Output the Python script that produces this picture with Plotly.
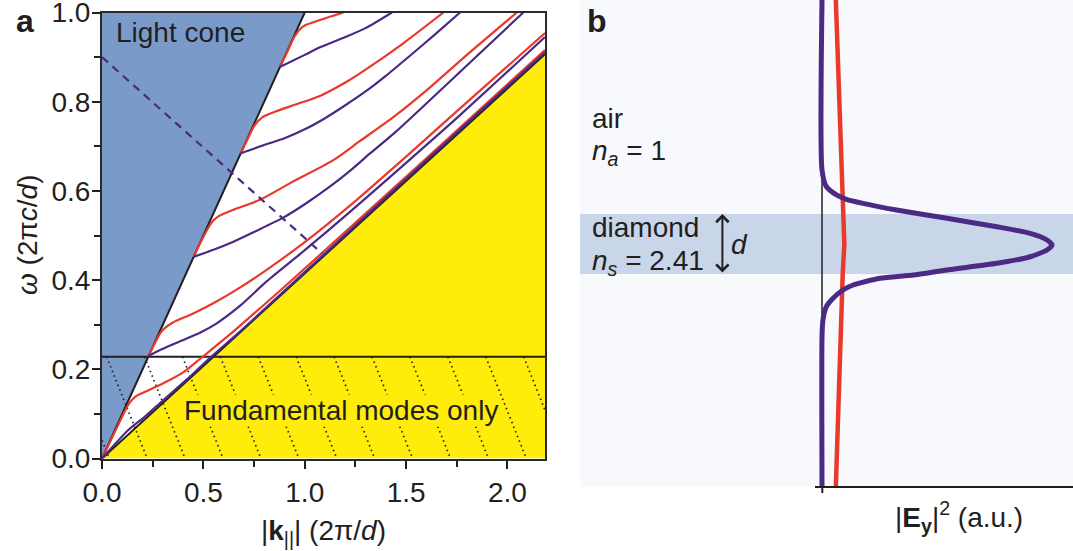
import plotly.graph_objects as go

# ---------------- panel a: guided-mode dispersion of a diamond slab ----------------
N_AIR = 1.0
N_DIAMOND = 2.41
K_MAX = 2.185          # right end of the k axis
W_CUT1 = 0.228         # cutoff of the first higher-order band

# fundamental bands
tm0_k = [0, 0.07, 0.13, 0.165, 0.2, 0.3, 0.4, 0.48, 0.55, 0.656, 0.9, 1.2, 1.6, 2.185]
tm0_w = [0, 0.066, 0.121, 0.139, 0.147, 0.168, 0.193, 0.222, 0.248, 0.288, 0.385, 0.508, 0.673, 0.916]
te0_k = [0, 0.13, 0.212, 0.3, 0.459, 0.541, 0.689, 1.0, 1.5, 2.185]
te0_w = [0, 0.064, 0.094, 0.13, 0.194, 0.229, 0.288, 0.418, 0.627, 0.911]

# first order
tm1_k = [0.229, 0.26, 0.29, 0.311, 0.35, 0.45, 0.549, 0.68, 0.812, 1.0, 1.223, 1.5, 1.766, 2.185]
tm1_w = [0.230, 0.258, 0.283, 0.293, 0.305, 0.325, 0.348, 0.383, 0.423, 0.485, 0.567, 0.677, 0.785, 0.954]
te1_k = [0.229, 0.3, 0.38, 0.483, 0.566, 0.68, 0.812, 1.0, 1.223, 1.5, 1.766, 2.185]
te1_w = [0.230, 0.246, 0.262, 0.282, 0.303, 0.342, 0.397, 0.467, 0.553, 0.663, 0.770, 0.945]

# second order
tm2_k = [0.451, 0.49, 0.525, 0.55, 0.574, 0.65, 0.779, 0.93, 1.141, 1.273, 1.45, 1.602, 1.8, 2.046]
tm2_w = [0.452, 0.488, 0.518, 0.534, 0.543, 0.558, 0.580, 0.618, 0.669, 0.712, 0.770, 0.826, 0.905, 1.0]
te2_k = [0.451, 0.55, 0.648, 0.75, 0.894, 1.0, 1.125, 1.223, 1.322, 1.45, 1.684, 2.078]
te2_w = [0.452, 0.468, 0.486, 0.508, 0.540, 0.570, 0.610, 0.645, 0.684, 0.733, 0.832, 1.0]

# third order
tm3_k = [0.683, 0.72, 0.75, 0.79, 0.85, 0.95, 1.075, 1.2, 1.3, 1.486, 1.684]
tm3_w = [0.684, 0.718, 0.745, 0.765, 0.777, 0.793, 0.813, 0.843, 0.872, 0.931, 1.0]
te3_k = [0.683, 0.8, 0.9, 1.0, 1.1, 1.2, 1.3, 1.4, 1.519, 1.64, 1.766]
te3_w = [0.684, 0.703, 0.718, 0.738, 0.763, 0.792, 0.823, 0.858, 0.903, 0.950, 1.0]

# fourth order
tm4_k = [0.877, 0.915, 0.948, 0.975, 1.0, 1.075, 1.19]
tm4_w = [0.878, 0.913, 0.945, 0.962, 0.971, 0.983, 1.0]
te4_k = [0.877, 1.0, 1.075, 1.2, 1.3, 1.43]
te4_w = [0.878, 0.905, 0.922, 0.945, 0.965, 1.0]

# constant-frequency-sum guide (dashed)
guide_k = [0.0, 1.085]
guide_w = [0.90, 0.46]

# hatch in the single-mode region: start k of each stroke at W_CUT1
hatch_k = [-0.164, 0.023, 0.21, 0.397, 0.584, 0.771, 0.958, 1.145, 1.332, 1.519, 1.706, 1.893, 2.080]
HATCH_RUN = 0.2

# ---------------- panel b: field intensity profile across the slab ----------------
prof_z = [4.067, 1.233, 0.955, 0.817, 0.745, 0.678, 0.567, 0.428, 0.288, 0.178, 0.067, -0.017,
          -0.1, -0.212, -0.322, -0.433, -0.517, -0.572, -0.683, -0.767, -0.905, -1.045, -1.267,
          -1.545, -4.05]
prof_te = [0.0, 0.0, 0.019, 0.063, 0.106, 0.178, 0.324, 0.543, 0.760, 0.905, 0.978, 1.0,
           0.978, 0.905, 0.760, 0.543, 0.397, 0.252, 0.135, 0.091, 0.048, 0.019, 0.004,
           0.0, 0.0]
rad_z = [4.067, 0.5, 0.0, -0.5, -4.05]
rad_i = [0.060, 0.090, 0.097, 0.090, 0.060]

RED = "#E8392B"
PURPLE = "#4B2A86"
BLUE = "#7A9AC9"
YELLOW = "#FFEC0A"
INK = "#231F20"
FONT = "Liberation Sans, Arial, sans-serif"

W, H = 1073, 551
fig = go.Figure()

# region fills
fig.add_trace(go.Scatter(x=[0, K_MAX, K_MAX, 0], y=[0, K_MAX / N_DIAMOND, 0, 0], fill="toself",
                         fillcolor=YELLOW, line=dict(width=0), mode="lines", hoverinfo="skip"))
fig.add_trace(go.Scatter(x=[0, 1 / N_AIR, 0, 0], y=[0, 1, 1, 0], fill="toself",
                         fillcolor=BLUE, line=dict(width=0), mode="lines", hoverinfo="skip"))

# hatch strokes
hx, hy = [], []
for k0 in hatch_k:
    hx += [k0, k0 + HATCH_RUN, None]
    hy += [W_CUT1, 0, None]
fig.add_trace(go.Scatter(x=hx, y=hy, mode="lines",
                         line=dict(color=INK, width=1.7, dash="1.5px,3.5px"), hoverinfo="skip"))

# light lines and cutoff line
fig.add_trace(go.Scatter(x=[0, 1 / N_AIR], y=[0, 1], mode="lines", line=dict(color=INK, width=2)))
fig.add_trace(go.Scatter(x=[0, K_MAX], y=[0, K_MAX / N_DIAMOND], mode="lines",
                         line=dict(color=INK, width=2)))
fig.add_trace(go.Scatter(x=[0, K_MAX], y=[W_CUT1, W_CUT1], mode="lines",
                         line=dict(color=INK, width=2)))

bands = [(tm0_k, tm0_w, RED), (te0_k, te0_w, PURPLE),
         (tm1_k, tm1_w, RED), (te1_k, te1_w, PURPLE),
         (tm2_k, tm2_w, RED), (te2_k, te2_w, PURPLE),
         (tm3_k, tm3_w, RED), (te3_k, te3_w, PURPLE),
         (tm4_k, tm4_w, RED), (te4_k, te4_w, PURPLE)]
for k, w, c in bands:
    fig.add_trace(go.Scatter(x=k, y=w, mode="lines",
                             line=dict(color=c, width=2.2, shape="spline", smoothing=0.7)))

fig.add_trace(go.Scatter(x=guide_k, y=guide_w, mode="lines",
                         line=dict(color=PURPLE, width=2.2, dash="8px,6px")))

# panel b curves
fig.add_trace(go.Scatter(x=rad_i, y=rad_z, mode="lines", xaxis="x2", yaxis="y2",
                         line=dict(color=RED, width=4.5)))
fig.add_trace(go.Scatter(x=prof_te, y=prof_z, mode="lines", xaxis="x2", yaxis="y2",
                         line=dict(color=PURPLE, width=5, shape="spline", smoothing=0.6)))

tickfont = dict(family=FONT, size=28, color=INK)
fig.update_layout(
    width=W, height=H, margin=dict(l=0, r=0, t=0, b=0),
    paper_bgcolor="white", plot_bgcolor="white", showlegend=False,
    font=dict(family=FONT, color=INK),
    xaxis=dict(domain=[102 / W, 545 / W], range=[0, K_MAX], showgrid=False, zeroline=False,
               showline=True, mirror=True, linecolor="#2a2a2a", linewidth=2, automargin=False,
               ticks="outside", ticklen=8, tickwidth=2, tickcolor=INK,
               tickvals=[0, 0.5, 1.0, 1.5, 2.0], ticktext=["0.0", "0.5", "1.0", "1.5", "2.0"],
               minor=dict(ticks="outside", ticklen=6, tickwidth=1.5, tickcolor=INK, dtick=0.25),
               tickfont=tickfont, ticklabeloverflow="allow"),
    yaxis=dict(domain=[(H - 458.5) / H, (H - 12.5) / H], range=[0, 1.0], showgrid=False,
               zeroline=False, showline=True, mirror=True, linecolor="#2a2a2a", linewidth=2,
               automargin=False,
               ticks="outside", ticklen=8, tickwidth=2, tickcolor=INK,
               tickvals=[0, 0.2, 0.4, 0.6, 0.8, 1.0],
               ticktext=["0.0", "0.2", "0.4", "0.6", "0.8", "1.0"],
               minor=dict(ticks="outside", ticklen=6, tickwidth=1.5, tickcolor=INK, dtick=0.1),
               tickfont=tickfont, ticklabelstandoff=-4, ticklabeloverflow="allow"),
    xaxis2=dict(domain=[580 / W, 1.0], range=[-1.052, 1.091], visible=False, anchor="y2",
                automargin=False),
    yaxis2=dict(domain=[(H - 487) / H, 1.0], range=[-4.05, 4.067], visible=False, anchor="x2",
                automargin=False),
)

# panel b background, slab band, axes
fig.add_shape(type="rect", xref="paper", yref="paper", x0=580 / W, x1=1, y0=(H - 487) / H, y1=1,
              fillcolor="#F7F9FC", line=dict(width=0), layer="below")
fig.add_shape(type="rect", xref="paper", yref="y2", x0=580 / W, x1=1, y0=-0.5, y1=0.5,
              fillcolor="#C9D6EA", line=dict(width=0), layer="below")
fig.add_shape(type="line", xref="x2", yref="y2", x0=0, x1=0, y0=-4.05, y1=4.067,
              line=dict(color=INK, width=1.5), layer="below")
fig.add_shape(type="line", xref="paper", yref="paper", x0=815 / W, x1=1,
              y0=(H - 487) / H, y1=(H - 487) / H, line=dict(color=INK, width=2))
fig.add_shape(type="line", xref="paper", yref="paper", x0=822.3 / W, x1=822.3 / W,
              y0=(H - 487) / H, y1=(H - 493) / H, line=dict(color=INK, width=2))

ann = []


def txt(text, x, y, size=28, xref="paper", yref="paper", **kw):
    d = dict(text=text, x=x, y=y, xref=xref, yref=yref, showarrow=False,
             xanchor="center", yanchor="middle",
             font=dict(family=FONT, size=size, color=INK))
    d.update(kw)
    ann.append(d)


# panel labels
txt("<b>a</b>", 25 / W, (H - 21) / H, size=32)
txt("<b>b</b>", 597 / W, (H - 21) / H, size=32)
# axis titles
txt("<i>ω</i> (2π<i>c</i>/<i>d</i>)", 27 / W, (H - 235) / H, textangle=-90)
txt("|<b>k</b><sub>||</sub>| (2π/<i>d</i>)", 323 / W, (H - 532) / H)
txt("|<b>E</b><sub><b>y</b></sub>|<sup>2</sup> (a.u.)", 959 / W, (H - 517) / H)
# region labels
txt("Light cone", 0.385, 0.955, xref="x", yref="y")
txt("Fundamental modes only", 1.18, 0.108, xref="x", yref="y", bgcolor=YELLOW, borderpad=0)
# layer labels
txt("air", 590 / W, 2.1, yref="y2", xanchor="left")
txt("<i>n</i><sub><i>a</i></sub> = 1", 590 / W, 1.53, yref="y2", xanchor="left")
txt("diamond", 590 / W, 0.28, yref="y2", xanchor="left")
txt("<i>n</i><sub><i>s</i></sub> = 2.41", 590 / W, -0.3, yref="y2", xanchor="left")
txt("<i>d</i>", -0.359, 0.0, xref="x2", yref="y2")
# thickness arrow
ann.append(dict(x=-0.433, y=0.5, ax=-0.433, ay=-0.5, xref="x2", yref="y2", axref="x2", ayref="y2",
                text="", showarrow=True, arrowside="end+start", arrowhead=4, startarrowhead=4,
                arrowsize=1.2, startarrowsize=1.2, arrowwidth=2, arrowcolor=INK))

fig.update_layout(annotations=ann)
fig.write_html("out.html")
